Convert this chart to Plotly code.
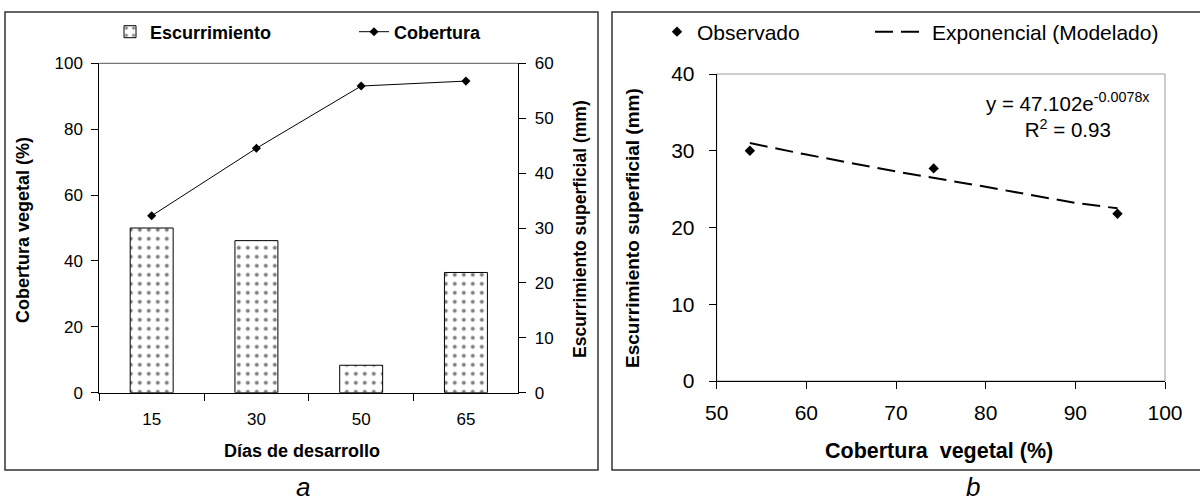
import plotly.graph_objects as go

# ---------------- data ----------------
dias = ["15", "30", "50", "65"]
escurrimiento = [30.0, 27.7, 5.0, 21.9]      # mm (right axis, bars)
cobertura = [53.7, 74.2, 93.1, 94.6]         # % (left axis, line)

obs_cobertura = [53.7, 74.2, 94.7]
obs_escurrimiento = [30.0, 27.7, 21.8]

modelo_x = [53.7, 60, 70, 80, 90, 94.7]
modelo_y = [31.0, 29.5, 27.3, 25.3, 23.2, 22.5]

ecuacion = "y = 47.102e<sup>-0.0078x</sup><br>R<sup>2</sup> = 0.93"

W, H = 1200, 504
FONT = "Liberation Sans, Arial, Helvetica, sans-serif"


def px(x):
    return x / W


def py(y):
    return 1 - y / H


fig = go.Figure()

fig.add_trace(go.Bar(
    x=dias, y=escurrimiento, name="Escurrimiento", xaxis="x", yaxis="y",
    width=0.41, showlegend=True,
    marker=dict(color="white", line=dict(color="black", width=1),
                pattern=dict(shape=".", fgcolor="black", bgcolor="white",
                             size=9, solidity=0.15)),
    legend="legend",
))
fig.add_trace(go.Scatter(
    x=dias, y=cobertura, name="Cobertura", mode="lines+markers",
    xaxis="x", yaxis="y2", showlegend=True,
    line=dict(color="black", width=1),
    marker=dict(symbol="diamond", size=7, color="black"),
    legend="legend2",
))
fig.add_trace(go.Scatter(
    x=modelo_x, y=modelo_y, name="Exponencial (Modelado)", mode="lines",
    xaxis="x2", yaxis="y3", showlegend=True,
    line=dict(color="black", width=2, dash="18px,8px"),
    legend="legend4",
))
fig.add_trace(go.Scatter(
    x=obs_cobertura, y=obs_escurrimiento, name="Observado", mode="markers",
    xaxis="x2", yaxis="y3", showlegend=True,
    marker=dict(symbol="diamond", size=8, color="black"),
    legend="legend3",
))

axis_common = dict(showline=True, linecolor="black", linewidth=1,
                   ticks="outside", ticklen=7, tickcolor="black",
                   showgrid=False, zeroline=False, automargin=False)

fig.update_layout(
    width=W, height=H, showlegend=True,
    margin=dict(l=0, r=0, t=0, b=0, pad=0, autoexpand=False),
    paper_bgcolor="white", plot_bgcolor="white",
    font=dict(family=FONT, color="black"),
    xaxis=dict(domain=[px(99.3), px(518.3)], type="category",
               range=[-0.5, 3.5], tickson="boundaries", anchor="y",
               tickfont=dict(size=17), ticklabelstandoff=11, **axis_common),
    yaxis=dict(domain=[py(392.7), py(63.3)], range=[0, 60], dtick=10,
               side="right", anchor="x", tickfont=dict(size=17),
               ticklabelstandoff=5, **axis_common),
    yaxis2=dict(range=[0, 100], dtick=20, side="left", overlaying="y",
                anchor="x", tickfont=dict(size=17), ticklabelstandoff=5,
                **axis_common),
    xaxis2=dict(domain=[px(716.7), px(1165)], range=[50, 100], dtick=10,
                anchor="y3", tickfont=dict(size=21), ticklabelstandoff=6,
                **axis_common),
    yaxis3=dict(domain=[py(381), py(74)], range=[0, 40], dtick=10,
                anchor="x2", tickfont=dict(size=21), ticklabelstandoff=10,
                **axis_common),
    legend=dict(x=px(110), y=py(32), xanchor="left", yanchor="middle",
                orientation="h", bgcolor="rgba(0,0,0,0)",
                font=dict(size=18, weight="bold")),
    legend2=dict(x=px(354), y=py(32), xanchor="left", yanchor="middle",
                 orientation="h", bgcolor="rgba(0,0,0,0)",
                 font=dict(size=18, weight="bold")),
    legend3=dict(x=px(657), y=py(32), xanchor="left", yanchor="middle",
                 orientation="h", bgcolor="rgba(0,0,0,0)",
                 font=dict(size=21)),
    legend4=dict(x=px(870), y=py(32), xanchor="left", yanchor="middle",
                 orientation="h", bgcolor="rgba(0,0,0,0)", itemwidth=52,
                 font=dict(size=21)),
)

shapes = [
    # panel frames
    dict(type="rect", xref="paper", yref="paper", x0=px(5), x1=px(598),
         y0=py(470), y1=py(12), line=dict(color="#333333", width=1.5)),
    dict(type="rect", xref="paper", yref="paper", x0=px(612), x1=px(1210),
         y0=py(470), y1=py(12), line=dict(color="#333333", width=1.5)),
    # plot-area frame lines
    dict(type="line", xref="x domain", yref="y domain", x0=0, x1=1, y0=1, y1=1,
         line=dict(color="#555555", width=1)),
    dict(type="rect", xref="x2 domain", yref="y3 domain", x0=0, x1=1, y0=0, y1=1,
         line=dict(color="#9a9a9a", width=1), layer="below"),
]
fig.update_layout(shapes=shapes)

bold = dict(family=FONT, size=18, weight="bold", color="black")
annotations = [
    dict(text="Cobertura vegetal (%)", x=px(23), y=py(230), textangle=-90,
         font=bold),
    dict(text="Escurrimiento superficial (mm)", x=px(580), y=py(229),
         textangle=-90, font=dict(family=FONT, size=17.5, weight="bold",
                                  color="black")),
    dict(text="Días de desarrollo", x=px(302), y=py(451), font=bold),
    dict(text="Cobertura\u00a0 vegetal (%)", x=px(939), y=py(451),
         font=dict(family=FONT, size=21.5, weight="bold", color="black")),
    dict(text="Escurrimiento superficial (mm)", x=px(633), y=py(228),
         textangle=-90,
         font=dict(family=FONT, size=19, weight="bold", color="black")),
    dict(text=ecuacion, x=px(1068), y=py(115), align="center",
         font=dict(family=FONT, size=20.5, color="black")),
    dict(text="<i>a</i>", x=px(303), y=py(487),
         font=dict(family=FONT, size=26, color="black")),
    dict(text="<i>b</i>", x=px(973), y=py(487),
         font=dict(family=FONT, size=26, color="black")),
]
for a in annotations:
    a.update(xref="paper", yref="paper", showarrow=False,
             xanchor="center", yanchor="middle")
fig.update_layout(annotations=annotations)

fig.write_html("out.html",
               config={"displayModeBar": False},
               post_script="document.body.style.margin='0';")
